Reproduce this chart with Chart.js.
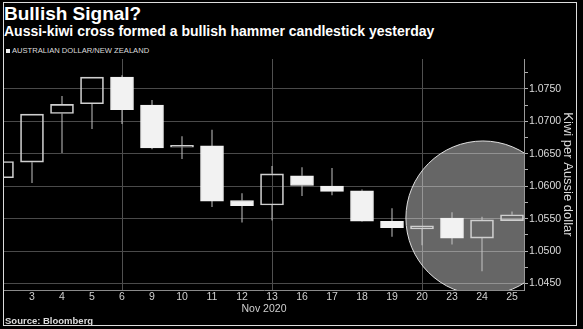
<!DOCTYPE html>
<html lang="en">
<head>
  <meta charset="UTF-8">
  <title>Bullish Signal?</title>
  <script src="https://cdn.jsdelivr.net/npm/chart.js"></script>
  <style>
    body { margin: 0; background: #000; width: 583px; height: 329px; overflow: hidden; position: relative;
           font-family: "Liberation Sans", Arial, sans-serif; color: #fff; }
    .frame { position: absolute; left: 3px; top: 2px; width: 574px; height: 324px; border: 1px solid #ddd; box-sizing: border-box; }
    .txt { position: absolute; white-space: nowrap; line-height: 1; }
    #title { left: 4px; top: 4px; font-size: 19px; font-weight: bold; }
    #subtitle { left: 4px; top: 23.5px; font-size: 14px; font-weight: bold; }
    #legend { left: 6px; top: 46.5px; font-size: 7.6px; color: #ddd; }
    #legend span { display: inline-block; width: 4px; height: 4px; background: #eee; margin-right: 2px; vertical-align: 0; }
    #source { left: 5px; top: 315.5px; font-size: 9.5px; font-weight: bold; color: #ddd; }
    #wrap { position: absolute; left: 0; top: 0; }
  </style>
</head>
<body>
  <div class="frame"></div>
  <div class="txt" id="title">Bullish Signal?</div>
  <div class="txt" id="subtitle">Aussi-kiwi cross formed a bullish hammer candlestick yesterday</div>
  <div class="txt" id="legend"><span></span>AUSTRALIAN DOLLAR/NEW ZEALAND</div>
  <div id="wrap"><canvas id="candles" width="583" height="329"></canvas></div>
  <div class="txt" id="source">Source: Bloomberg</div>

  <script>
    // Nov 2020 trading days (the first one is cut off by the plot edge)
    const days = ['2', '3', '4', '5', '6', '9', '10', '11', '12', '13', '16', '17', '18', '19', '20', '23', '24', '25'];
    const opens  = [1.0613, 1.0637, 1.0712, 1.0727, 1.0768, 1.0725, 1.0660, 1.0662, 1.0578, 1.0571, 1.0616, 1.0600, 1.0593, 1.0546, 1.0534, 1.0551, 1.0520, 1.0547];
    const highs  = [1.0638, 1.0711, 1.0739, 1.0768, 1.0771, 1.0733, 1.0677, 1.0687, 1.0589, 1.0631, 1.0629, 1.0628, 1.0595, 1.0566, 1.0539, 1.0560, 1.0553, 1.0561];
    const lows   = [1.0613, 1.0605, 1.0651, 1.0688, 1.0696, 1.0657, 1.0642, 1.0568, 1.0544, 1.0547, 1.0585, 1.0586, 1.0545, 1.0522, 1.0509, 1.0510, 1.0469, 1.0547];
    const closes = [1.0638, 1.0711, 1.0726, 1.0768, 1.0718, 1.0659, 1.0661, 1.0577, 1.0570, 1.0619, 1.0601, 1.0592, 1.0546, 1.0536, 1.0539, 1.0520, 1.0548, 1.0556];

    const yLabels = [1.0450, 1.0500, 1.0550, 1.0600, 1.0650, 1.0700, 1.0750];
    const weekLines = ['6', '13', '20'];
    // highlight circle around the last few sessions
    const spot = { day: 16.03, value: 1.0551 };

    const bodies = [], upperWicks = [], lowerWicks = [];
    days.forEach((d, i) => {
      const top = Math.max(opens[i], closes[i]);
      const bottom = Math.min(opens[i], closes[i]);
      bodies.push({ x: i, y: [opens[i], closes[i]] });
      upperWicks.push({ x: i, y: [top, highs[i]] });
      lowerWicks.push({ x: i, y: [lows[i], bottom] });
    });
    const isDown = i => closes[i] < opens[i];

    // major labelled ticks plus minor ticks halfway between
    const yTicks = [];
    yLabels.forEach((v, i) => {
      yTicks.push({ value: v, major: true });
      const next = i < yLabels.length - 1 ? yLabels[i + 1] : v + 0.005;
      yTicks.push({ value: (v + next) / 2, major: false });
    });

    const fontFamily = '"Liberation Sans", Arial, sans-serif';

    new Chart(document.getElementById('candles'), {
      type: 'bar',
      data: {
        datasets: [
          {
            data: bodies,
            grouped: false,
            barThickness: 23,
            minBarLength: 2,
            borderWidth: 1,
            borderSkipped: false,
            backgroundColor: ctx => isDown(ctx.dataIndex) ? '#f2f2f2' : 'transparent',
            borderColor: ctx => isDown(ctx.dataIndex) ? '#f2f2f2' : '#cfcfcf',
            order: 0
          },
          {
            data: upperWicks,
            grouped: false,
            barThickness: 1,
            inflateAmount: 0,
            backgroundColor: '#c4c4c4',
            order: 1
          },
          {
            data: lowerWicks,
            grouped: false,
            barThickness: 1,
            inflateAmount: 0,
            backgroundColor: '#c4c4c4',
            order: 1
          },
          {
            type: 'scatter',
            data: [{ x: spot.day, y: spot.value }],
            pointRadius: 77,
            backgroundColor: 'rgba(255,255,255,0.40)',
            borderColor: '#e0e0e0',
            borderWidth: 1,
            clip: 0,
            order: 5
          }
        ]
      },
      options: {
        responsive: false,
        animation: false,
        events: [],
        layout: { autoPadding: false, padding: { left: 4, top: 59, right: 5, bottom: 9 } },
        plugins: { legend: { display: false }, tooltip: { enabled: false } },
        scales: {
          x: {
            type: 'linear',
            min: 2 / 30,
            max: 17.4,
            offset: false,
            afterBuildTicks: scale => {
              scale.ticks = days.map((d, i) => ({ value: i })).filter(t => t.value >= 1);
            },
            afterFit: scale => { scale.height = 30; },
            grid: {
              offset: false,
              drawTicks: false,
              color: ctx => ctx.tick && weekLines.includes(days[ctx.tick.value]) ? '#505050' : 'transparent',
              lineWidth: 1
            },
            border: { display: true, color: '#8a8a8a' },
            ticks: {
              color: '#d0d0d0',
              padding: 1,
              autoSkip: false,
              maxRotation: 0,
              font: { family: fontFamily, size: 10.5 },
              callback: value => days[value]
            },
            title: {
              display: true,
              text: 'Nov 2020',
              color: '#d0d0d0',
              font: { family: fontFamily, size: 10.5 },
              padding: { top: 0, bottom: 4.7 }
            }
          },
          y: {
            position: 'right',
            min: 1.0440,
            max: 1.0796,
            afterBuildTicks: scale => { scale.ticks = yTicks.filter(t => t.value <= 1.0796); },
            afterFit: scale => { scale.width = 54; },
            grid: {
              color: ctx => ctx.tick && ctx.tick.major ? '#4a4a4a' : 'transparent',
              tickColor: '#b0b0b0',
              tickLength: 4
            },
            border: { display: true, color: '#9a9a9a' },
            ticks: {
              color: '#dcdcdc',
              padding: 1,
              font: { family: fontFamily, size: 10.5 },
              callback: function (value, index, ticks) {
                return ticks[index].major ? value.toFixed(4) : '';
              }
            },
            title: {
              display: true,
              text: 'Kiwi per Aussie dollar',
              color: '#dcdcdc',
              font: { family: fontFamily, size: 13 },
              padding: { top: 3, bottom: 0 }
            }
          }
        }
      }
    });
  </script>
</body>
</html>
